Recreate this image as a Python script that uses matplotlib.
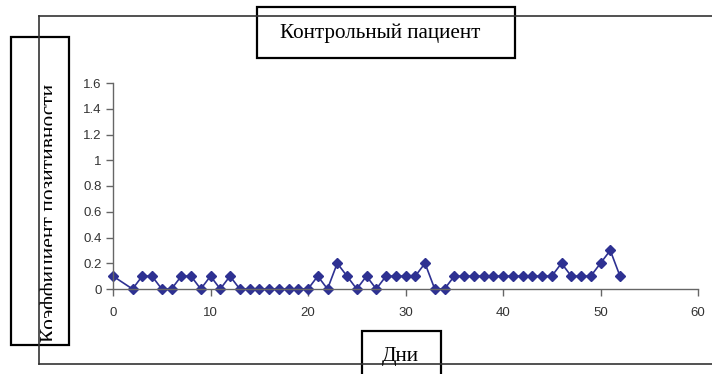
import matplotlib
matplotlib.use("Agg")
import matplotlib.pyplot as plt
from matplotlib.patches import Rectangle
from matplotlib.lines import Line2D
from matplotlib.transforms import Bbox

days = [0, 2, 3, 4, 5, 6, 7, 8, 9, 10, 11, 12, 13, 14, 15, 16, 17, 18, 19, 20,
        21, 22, 23, 24, 25, 26, 27, 28, 29, 30, 31, 32, 33, 34, 35, 36, 37, 38,
        39, 40, 41, 42, 43, 44, 45, 46, 47, 48, 49, 50, 51, 52]
values = [0.1, 0, 0.1, 0.1, 0, 0, 0.1, 0.1, 0, 0.1, 0, 0.1, 0, 0, 0, 0, 0, 0, 0, 0,
          0.1, 0, 0.2, 0.1, 0, 0.1, 0, 0.1, 0.1, 0.1, 0.1, 0.2, 0, 0, 0.1, 0.1, 0.1, 0.1,
          0.1, 0.1, 0.1, 0.1, 0.1, 0.1, 0.1, 0.2, 0.1, 0.1, 0.1, 0.2, 0.3, 0.1]
x_ticks = [0, 10, 20, 30, 40, 50, 60]
y_ticks = [0, 0.2, 0.4, 0.6, 0.8, 1.0, 1.2, 1.4, 1.6]
y_tick_labels = ["0", "0.2", "0.4", "0.6", "0.8", "1", "1.2", "1.4", "1.6"]
title = "Контрольный пациент"
xlabel = "Дни"
ylabel = "Коэффициент позитивности"

W, H = 712, 374
fig = plt.figure(figsize=(W / 100, H / 100), dpi=100)

def fx(px):
    return px / W

def fy(py):
    return 1 - py / H

# axes
ax_l, ax_r, ax_t, ax_b = 113, 698, 83, 289
ax = fig.add_axes([fx(ax_l), fy(ax_b), fx(ax_r - ax_l), (ax_b - ax_t) / H])
col = "#2E3192"
ax.plot(days, values, color=col, lw=1.2, marker="D", ms=5.5, mfc=col, mec=col, clip_on=False)
ax.set_xlim(0, 60)
ax.set_ylim(0, 1.6)
ax.set_xticks(x_ticks)
ax.set_yticks(y_ticks)
ax.set_yticklabels(y_tick_labels)
for s in ["top", "right"]:
    ax.spines[s].set_visible(False)
for s in ["left", "bottom"]:
    ax.spines[s].set_color("#666666")
    ax.spines[s].set_linewidth(1.0)
ax.tick_params(axis="both", colors="#666666", labelcolor="#333333", labelsize=9.5,
               length=5, width=1.0, direction="out")
for lab in ax.get_xticklabels() + ax.get_yticklabels():
    lab.set_family(["Liberation Sans", "DejaVu Sans"])
ax.tick_params(axis="x", pad=8)
ax.tick_params(axis="y", pad=3)
ax.set_facecolor("none")

# outer frame lines
fcol = "#333333"
fig.add_artist(Line2D([fx(39), fx(W + 5)], [fy(16), fy(16)], color=fcol, lw=1.2))
fig.add_artist(Line2D([fx(39), fx(W + 5)], [fy(364), fy(364)], color=fcol, lw=1.2))
fig.add_artist(Line2D([fx(39), fx(39)], [fy(16), fy(364)], color=fcol, lw=1.2))

serif = ["Liberation Serif", "DejaVu Serif"]

def box(x0, y0, x1, y1):
    r = Rectangle((fx(x0), fy(y1)), fx(x1 - x0), (y1 - y0) / H,
                  transform=fig.transFigure, facecolor="white", edgecolor="black", lw=1.6)
    fig.add_artist(r)
    return r

# title box
box(257, 7, 515, 58)
fig.text(fx(380), fy(33), title, family=serif, fontsize=15.2, ha="center", va="center")

# x label box
box(362, 331, 441, 380)
fig.text(fx(400), fy(356), xlabel, family=serif, fontsize=15.2, ha="center", va="center")

# y label box (text partly clipped on its baseline side, as in the reference)
box(11, 37, 69, 345)
t = fig.text(fx(55), fy(342), ylabel, family=serif, fontsize=15.4, rotation=90,
             ha="left", va="baseline", rotation_mode="anchor")
clip = Bbox.from_extents(12, H - 344, 51.5, H - 38)
t.set_clip_box(clip)
t.set_clip_on(True)

fig.savefig("out.png", dpi=100)
